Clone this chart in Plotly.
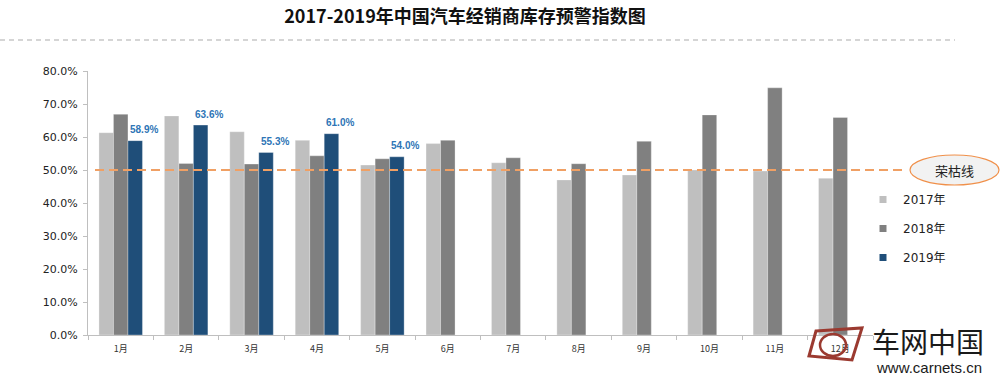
import plotly.graph_objects as go

months = ["1月", "2月", "3月", "4月", "5月", "6月", "7月", "8月", "9月", "10月", "11月", "12月"]
v2017 = [61.3, 66.4, 61.6, 59.0, 51.5, 58.0, 52.2, 47.0, 48.5, 50.0, 49.7, 47.5]
v2018 = [66.9, 52.0, 51.8, 54.3, 53.4, 59.0, 53.7, 51.9, 58.7, 66.7, 74.9, 65.9]
v2019 = [58.9, 63.6, 55.3, 61.0, 54.0]
series_names = ["2017年", "2018年", "2019年"]
colors = ["#BFBFBF", "#808080", "#1F4E79"]
threshold = 50.0
y_ticks = [0, 10, 20, 30, 40, 50, 60, 70, 80]

CJK = "Noto Sans CJK SC, DejaVu Sans, sans-serif"
NUM = "DejaVu Sans, Noto Sans CJK SC, sans-serif"

# plot area in pixels
L, R, T, B = 88, 873, 71, 335


def px(x):
    return (x - L) / (R - L)


def py(y):
    return (B - y) / (B - T)


fig = go.Figure()
for name, vals, col in zip(series_names, [v2017, v2018, v2019], colors):
    fig.add_trace(go.Bar(x=months[:len(vals)], y=vals, name=name, showlegend=False,
                         marker=dict(color=col, line=dict(color="rgba(255,255,255,0.6)", width=0.5))))
    fig.add_trace(go.Scatter(x=[None], y=[None], mode="markers", name=name, legendgroup=name,
                             marker=dict(symbol="square", size=7, color=col)))

# data labels for 2019
for m, v in zip(months, v2019):
    fig.add_annotation(x=m, y=v, text=f"<b>{v:.1f}%</b>", showarrow=False,
                       xshift=23, yshift=11, xanchor="center", yanchor="middle",
                       font=dict(family="Liberation Sans, DejaVu Sans, sans-serif", size=10, color="#2E75B6"))

# threshold dashed line
fig.add_shape(type="line", xref="paper", yref="y", x0=px(95), x1=px(902), y0=threshold, y1=threshold,
              line=dict(color="#F0A064", width=2, dash="9px,5px"), layer="above")
# top separator dashed line
fig.add_shape(type="line", xref="paper", yref="paper", x0=px(0), x1=px(955), y0=py(40), y1=py(40),
              line=dict(color="#C8C8C8", width=1.5, dash="5px,4px"))
# ellipse label
fig.add_shape(type="circle", xref="paper", yref="paper", x0=px(910), x1=px(999), y0=py(185), y1=py(155),
              line=dict(color="#F0904A", width=1.2), fillcolor="#F2F2F2")
fig.add_annotation(text="荣枯线", xref="paper", yref="paper", x=px(954), y=py(170), showarrow=False,
                   xanchor="center", yanchor="middle",
                   font=dict(family=CJK, size=13, color="#222222"))

# watermark logo (approximation)
fig.add_shape(type="path", xref="paper", yref="paper",
              path=(f"M {px(816)} {py(331)} L {px(862)} {py(328)} L {px(852)} {py(360)} "
                    f"L {px(809)} {py(356)} Z"),
              line=dict(color="#9B3A30", width=3), fillcolor="rgba(0,0,0,0)")
fig.add_shape(type="circle", xref="paper", yref="paper", x0=px(820), x1=px(846), y0=py(356), y1=py(334),
              line=dict(color="#9B3A30", width=2.5))
fig.add_annotation(text="车网中国", xref="paper", yref="paper", x=px(928), y=py(341), showarrow=False,
                   xanchor="center", yanchor="middle",
                   font=dict(family=CJK, size=28, color="#1a1a1a"))
fig.add_annotation(text="www.carnets.cn", xref="paper", yref="paper", x=px(929), y=py(367), showarrow=False,
                   xanchor="center", yanchor="middle",
                   font=dict(family="Liberation Sans, sans-serif", size=15, color="#1a1a1a"))

fig.update_layout(
    width=1000, height=383,
    margin=dict(l=L, r=1000 - R, t=T, b=383 - B, autoexpand=False),
    paper_bgcolor="white", plot_bgcolor="white",
    barmode="group", bargap=0.335, bargroupgap=0,
    title=dict(text="<b>2017-2019年中国汽车经销商库存预警指数图</b>", x=px(465), xref="paper",
               y=1 - 17 / 383, yref="container", xanchor="center", yanchor="middle",
               font=dict(family=CJK, size=18, color="#111111")),
    legend=dict(x=px(863), y=py(185), xanchor="left", yanchor="top", tracegroupgap=10,
                font=dict(family=NUM, size=12, color="#222222"), bgcolor="rgba(0,0,0,0)",
                itemwidth=30),
    showlegend=True,
    xaxis=dict(type="category", categoryorder="array", categoryarray=months,
               showline=True, linecolor="#BFBFBF", linewidth=1,
               ticks="outside", tickson="boundaries", ticklen=4, tickcolor="#BFBFBF",
               ticklabelstandoff=5,
               tickfont=dict(family=CJK, size=9, color="#333333"), showgrid=False),
    yaxis=dict(range=[0, 80], tickvals=y_ticks, ticktext=[f"{t:.1f}%" for t in y_ticks],
               showline=True, linecolor="#BFBFBF", linewidth=1, ticks="outside", ticklen=4,
               tickcolor="#BFBFBF", showgrid=False, zeroline=False, ticklabelstandoff=3,
               tickfont=dict(family=NUM, size=11, color="#222222")),
)

fig.write_html("out.html", post_script="document.body.style.margin='0px';",
               config={"displayModeBar": False})
